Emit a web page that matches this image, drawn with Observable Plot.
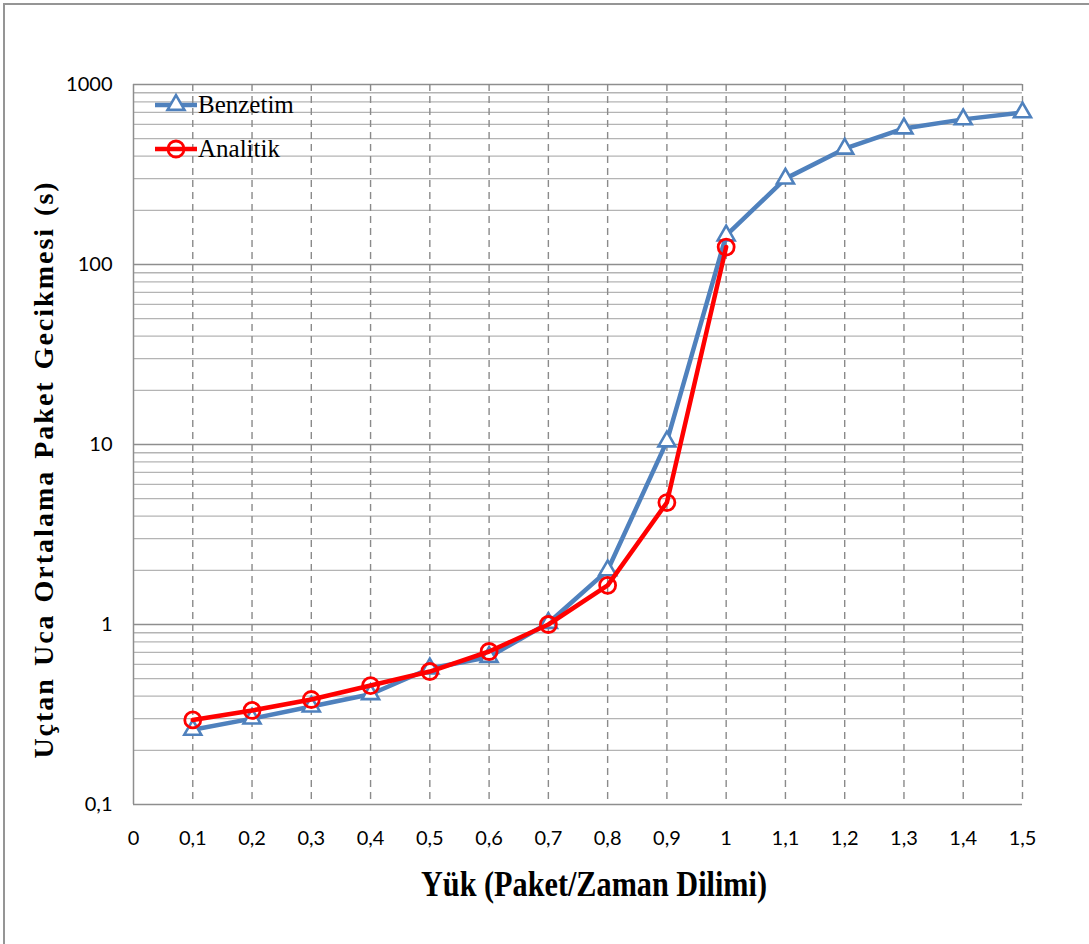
<!DOCTYPE html>
<html>
<head>
<meta charset="utf-8">
<script src="https://cdn.jsdelivr.net/npm/d3@7"></script>
<script src="https://cdn.jsdelivr.net/npm/@observablehq/plot@0.6"></script>
<style>
  body { margin: 0; background: #fff; }
  #wrap { position: relative; width: 1089px; height: 944px; overflow: hidden; background: #fff; }
  #frame { position: absolute; left: 3px; top: 3px; width: 1200px; height: 1200px;
           border-left: 2px solid #959595; border-top: 2px solid #959595; pointer-events: none; }
  #chart { position: absolute; left: 0; top: 0; }
  #legend { position: absolute; left: 155px; top: 83px;
            font-family: "Liberation Serif", "Times New Roman", serif; font-size: 25px; color: #000; }
  #legend .item { display: flex; align-items: center; height: 44px; }
  #legend svg { display: block; margin-right: 1px; }
</style>
</head>
<body>
<div id="wrap">
  <div id="chart"></div>
  <div id="frame"></div>
  <div id="legend"></div>
</div>
<script>
// Offered load (packets per time slot)
const load = [0.1, 0.2, 0.3, 0.4, 0.5, 0.6, 0.7, 0.8, 0.9, 1.0, 1.1, 1.2, 1.3, 1.4, 1.5];
// Simulation results: mean end-to-end packet delay (s)
const benzetim = [0.26, 0.30, 0.35, 0.41, 0.57, 0.66, 1.02, 2.0, 10.4, 145, 300, 440, 570, 640, 700];
// Analytical model (defined only up to load 1.0)
const analitikLoad = [0.1, 0.2, 0.3, 0.4, 0.5, 0.6, 0.7, 0.8, 0.9, 1.0];
const analitik = [0.295, 0.333, 0.383, 0.458, 0.548, 0.708, 1.0, 1.65, 4.76, 125];

const seriesNames = ["Benzetim", "Analitik"];
const seriesColors = ["#4f81bd", "#ff0000"];

// Axis ticks and their labels (decimal comma)
const xTicks = [0, 0.1, 0.2, 0.3, 0.4, 0.5, 0.6, 0.7, 0.8, 0.9, 1.0, 1.1, 1.2, 1.3, 1.4, 1.5];
const xTickLabels = ["0", "0,1", "0,2", "0,3", "0,4", "0,5", "0,6", "0,7", "0,8", "0,9", "1", "1,1", "1,2", "1,3", "1,4", "1,5"];
const yTicks = [0.1, 1, 10, 100, 1000];
const yTickLabels = ["0,1", "1", "10", "100", "1000"];

const xTitle = "Yük (Paket/Zaman Dilimi)";
const yTitle = "Uçtan Uca Ortalama Paket Gecikmesi (s)";

// Minor log gridlines: 2..9 within each decade
const yMinor = [];
for (let e = -1; e < 3; e++) for (let m = 2; m <= 9; m++) yMinor.push(+(m * 10 ** e).toPrecision(3));

const simRows = load.map((x, i) => ({x, y: benzetim[i]}));
const anaRows = analitikLoad.map((x, i) => ({x, y: analitik[i]}));

const tickFont = '"Liberation Sans Narrow", Lato, "Liberation Sans", sans-serif';
const serif = '"Liberation Serif", "Times New Roman", serif';

const chart = Plot.plot({
  width: 1089,
  height: 944,
  marginLeft: 133,
  marginRight: 67,
  marginTop: 84,
  marginBottom: 140,
  style: {fontFamily: tickFont, fontSize: "20px", color: "#000", background: "transparent", overflow: "visible"},
  x: {
    domain: [0, 1.5],
    ticks: xTicks,
    tickFormat: d => xTickLabels[xTicks.findIndex(t => Math.abs(t - d) < 1e-9)],
    tickSize: 0,
    tickPadding: 26,
    label: null
  },
  y: {
    type: "log",
    domain: [0.1, 1000],
    ticks: yTicks,
    tickFormat: d => yTickLabels[yTicks.findIndex(t => Math.abs(t / d - 1) < 1e-9)],
    tickSize: 0,
    tickPadding: 21,
    label: null
  },
  marks: [
    Plot.ruleY(yMinor, {stroke: "#b4b4b4", strokeWidth: 1.3}),
    Plot.ruleY(yTicks, {stroke: "#8e8e8e", strokeWidth: 1.5}),
    Plot.ruleX(xTicks.filter(d => d > 0), {stroke: "#8a8a8a", strokeWidth: 1.4, strokeDasharray: "7,5"}),
    Plot.ruleX([0], {stroke: "#8e8e8e", strokeWidth: 1.5}),
    // Simulation series
    Plot.line(simRows, {x: "x", y: "y", stroke: seriesColors[0], strokeWidth: 4.5}),
    Plot.dot(simRows, {x: "x", y: "y", symbol: "triangle", r: 6.3, fill: "white", stroke: seriesColors[0], strokeWidth: 2.6}),
    // Analytical series
    Plot.line(anaRows, {x: "x", y: "y", stroke: seriesColors[1], strokeWidth: 4.5}),
    Plot.dot(anaRows, {x: "x", y: "y", r: 8, fill: "none", stroke: seriesColors[1], strokeWidth: 2.8}),
    // Axis titles
    Plot.text([xTitle], {frameAnchor: "bottom", textAnchor: "middle", dx: 16, dy: 91, fontFamily: serif,
      fontWeight: "bold", fontSize: 36, fill: "#000"}),
    Plot.text([yTitle], {frameAnchor: "left", textAnchor: "middle", rotate: -90, dx: -89, dy: 25, fontFamily: serif,
      fontWeight: "bold", fontSize: 28, fill: "#000"})
  ]
});

// Title styling: narrow the horizontal title, open up the vertical one
chart.querySelectorAll("text").forEach(t => {
  if (t.textContent === xTitle) {
    const x = t.getAttribute("x"), y = t.getAttribute("y");
    let tr = t.getAttribute("transform") || "";
    if (x !== null && y !== null) {
      tr = `translate(${x},${y}) ` + tr;
      t.removeAttribute("x");
      t.removeAttribute("y");
    }
    t.setAttribute("transform", tr + " scale(0.84,1)");
  } else if (t.textContent === yTitle) {
    t.style.letterSpacing = "2px";
    t.style.wordSpacing = "2px";
  }
});

document.getElementById("chart").appendChild(chart);

// Legend
const legend = d3.select("#legend");
const items = legend.selectAll(".item").data(seriesNames).join("div").attr("class", "item");
const sw = items.append("svg").attr("width", 42).attr("height", 26);
sw.append("line").attr("x1", 0).attr("x2", 42).attr("y1", 13).attr("y2", 13)
  .attr("stroke", (d, i) => seriesColors[i]).attr("stroke-width", 4.5);
sw.filter((d, i) => i === 0).append("path")
  .attr("d", d3.symbol(d3.symbolTriangle, Math.PI * 6.3 * 6.3)())
  .attr("transform", "translate(21,13)")
  .attr("fill", "white").attr("stroke", seriesColors[0]).attr("stroke-width", 2.6);
sw.filter((d, i) => i === 1).append("circle")
  .attr("cx", 21).attr("cy", 13).attr("r", 8)
  .attr("fill", "none").attr("stroke", seriesColors[1]).attr("stroke-width", 2.8);
items.append("span").text(d => d);
</script>
</body>
</html>
